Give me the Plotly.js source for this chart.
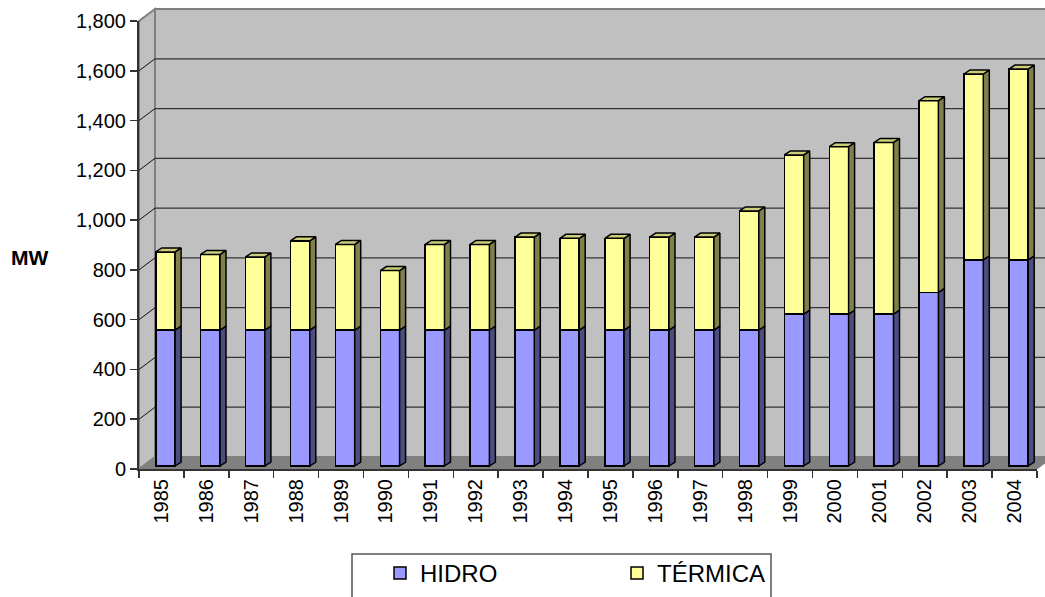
<!DOCTYPE html>
<html>
<head>
<meta charset="utf-8">
<script src="https://cdn.plot.ly/plotly-3.0.1.min.js"></script>
<style>html,body{margin:0;padding:0;background:#fff;}#chart{width:1045px;height:597px;}</style>
</head>
<body>
<div id="chart"></div>
<script>
// ---- data ----
const years = ["1985","1986","1987","1988","1989","1990","1991","1992","1993","1994","1995","1996","1997","1998","1999","2000","2001","2002","2003","2004"];
const hidro = [546,546,546,546,546,546,546,546,546,546,546,546,546,546,610,610,610,698,828,828];
const termica = [314,304,294,359,344,239,344,344,374,369,369,374,374,479,640,673,690,770,747,767];
const yTicks = [0,200,400,600,800,1000,1200,1400,1600,1800];
const seriesNames = ["HIDRO","TÉRMICA"];

// ---- geometry / style (pixels) ----
const W = 1045, H = 597;
const M = {l:139, r:8, t:21, b:128, autoexpand:false};
const PW = W - M.l - M.r, PH = H - M.t - M.b;
const YMAX = 1800;
const scaleY = PH / YMAX;           // px per unit
const catPx = PW / years.length;    // px per category
const wallDX = 16, wallDY = 12;     // back wall offset
const barShiftX = 4, barShiftY = 3; // bars plane offset
const barDXpx = 6, barDYpx = 4;     // bar depth
const barWidth = 19.3 / catPx;
const X = px => (px - M.l) / PW;
const Y = py => (M.t + PH - py) / PH;

const idx = years.map((_, i) => i);
const totals = hidro.map((h, i) => h + termica[i]);

// bar depth in bar-axis units
const ddx = barDXpx / catPx, ddy = barDYpx / scaleY;
const hw = barWidth / 2;

function sidePolys(base, top) {
  const xs = [], ys = [];
  idx.forEach(i => {
    const xr = i + hw;
    xs.push(xr, xr + ddx, xr + ddx, xr, xr, null);
    ys.push(base[i], base[i] + ddy, top[i] + ddy, top[i], base[i], null);
  });
  return {xs, ys};
}
function topPolys(top) {
  const xs = [], ys = [];
  idx.forEach(i => {
    const xl = i - hw, xr = i + hw;
    xs.push(xl, xl + ddx, xr + ddx, xr, xl, null);
    ys.push(top[i], top[i] + ddy, top[i] + ddy, top[i], top[i], null);
  });
  return {xs, ys};
}
const zeros = idx.map(() => 0);
const sideBlue = sidePolys(zeros, hidro);
const sideYellow = sidePolys(hidro, totals);
const topYellow = topPolys(totals);

const edge = {color:'#000', width:1.5};
const traces = [
  {type:'scatter', x:years, y:totals, mode:'none', xaxis:'x', yaxis:'y', showlegend:false, hoverinfo:'skip'},
  {type:'bar', name:seriesNames[0], x:idx, y:hidro, width:barWidth, xaxis:'x2', yaxis:'y2',
   marker:{color:'#9999FF', line:edge}},
  {type:'bar', name:seriesNames[1], x:idx, y:termica, width:barWidth, xaxis:'x2', yaxis:'y2',
   marker:{color:'#FFFF99', line:edge}},
  {type:'scatter', x:sideBlue.xs, y:sideBlue.ys, xaxis:'x2', yaxis:'y2', mode:'lines', fill:'toself',
   fillcolor:'#4D4D80', line:edge, showlegend:false, hoverinfo:'skip'},
  {type:'scatter', x:sideYellow.xs, y:sideYellow.ys, xaxis:'x2', yaxis:'y2', mode:'lines', fill:'toself',
   fillcolor:'#80804D', line:edge, showlegend:false, hoverinfo:'skip'},
  {type:'scatter', x:topYellow.xs, y:topYellow.ys, xaxis:'x2', yaxis:'y2', mode:'lines', fill:'toself',
   fillcolor:'#CCCC7A', line:edge, showlegend:false, hoverinfo:'skip'}
];

const shapes = [];
// back wall
shapes.push({type:'rect', xref:'paper', yref:'paper', layer:'below',
  x0:X(M.l + wallDX), x1:X(W + 5), y0:Y(M.t + PH - wallDY), y1:Y(M.t - wallDY),
  fillcolor:'#C0C0C0', line:{color:'#808080', width:2}});
// left side wall
shapes.push({type:'path', xref:'paper', yref:'paper', layer:'below',
  path:`M ${X(M.l)} ${Y(M.t+PH)} L ${X(M.l)} ${Y(M.t)} L ${X(M.l+wallDX)} ${Y(M.t-wallDY)} L ${X(M.l+wallDX)} ${Y(M.t+PH-wallDY)} Z`,
  fillcolor:'#C0C0C0', line:{color:'#808080', width:2}});
// floor
shapes.push({type:'path', xref:'paper', yref:'paper', layer:'below',
  path:`M ${X(M.l)} ${Y(M.t+PH)} L ${X(M.l+PW)} ${Y(M.t+PH)} L ${X(M.l+PW+wallDX)} ${Y(M.t+PH-wallDY)} L ${X(M.l+wallDX)} ${Y(M.t+PH-wallDY)} Z`,
  fillcolor:'#808080', line:{color:'#808080', width:1}});
// gridlines on back wall & diagonals on side wall
yTicks.forEach(v => {
  if (v > 0) {
    shapes.push({type:'line', xref:'paper', yref:'y', ysizemode:'pixel', yanchor:v, layer:'below',
      x0:X(M.l + wallDX), x1:X(W + 5), y0:wallDY, y1:wallDY, line:{color:'#333333', width:1.2}});
    shapes.push({type:'line', xref:'paper', yref:'y', ysizemode:'pixel', yanchor:v, layer:'below',
      x0:0, x1:X(M.l + wallDX), y0:0, y1:wallDY, line:{color:'#111111', width:1}});
  }
});
// legend box
shapes.push({type:'rect', xref:'paper', yref:'paper', layer:'above',
  x0:X(352), x1:X(771), y0:Y(554), y1:Y(605), fillcolor:'rgba(0,0,0,0)', line:{color:'#555555', width:1.5}});

const font = '"Liberation Sans", Arial, sans-serif';
const layout = {
  width:W, height:H, margin:M,
  paper_bgcolor:'#ffffff', plot_bgcolor:'rgba(0,0,0,0)',
  barmode:'stack', showlegend:true,
  font:{family:font, size:20, color:'#000'},
  xaxis:{type:'category', range:[-0.5, years.length - 0.5], tickson:'boundaries', ticks:'outside', ticklen:7,
    tickcolor:'#333', tickwidth:1.5, tickangle:-90, showgrid:false, showline:true, linecolor:'#333', linewidth:2,
    zeroline:false, tickfont:{size:20, family:font}, fixedrange:true, automargin:false},
  yaxis:{range:[0, YMAX], tickvals:yTicks, tickformat:',', ticks:'outside', ticklen:7, tickcolor:'#333',
    tickwidth:1.5, showgrid:false, showline:true, linecolor:'#333', linewidth:2, zeroline:false,
    tickfont:{size:20, family:font}, fixedrange:true, automargin:false},
  xaxis2:{overlaying:'x', visible:false, type:'linear',
    range:[-0.5 - barShiftX / catPx, years.length - 0.5 - barShiftX / catPx]},
  yaxis2:{overlaying:'y', visible:false, range:[-barShiftY / scaleY, YMAX - barShiftY / scaleY]},
  legend:{orientation:'h', x:X(380), xanchor:'left', y:Y(551), yanchor:'top', bgcolor:'rgba(0,0,0,0)',
    borderwidth:0, font:{size:24, family:font}, entrywidth:192, entrywidthmode:'pixels', traceorder:'normal'},
  shapes:shapes,
  annotations:[{text:'<b>MW</b>', xref:'paper', yref:'paper', x:X(29), y:Y(257), xanchor:'center', yanchor:'middle',
    showarrow:false, font:{size:21, family:font}}]
};

Plotly.newPlot('chart', traces, layout, {staticPlot:true, displayModeBar:false});
</script>
</body>
</html>
